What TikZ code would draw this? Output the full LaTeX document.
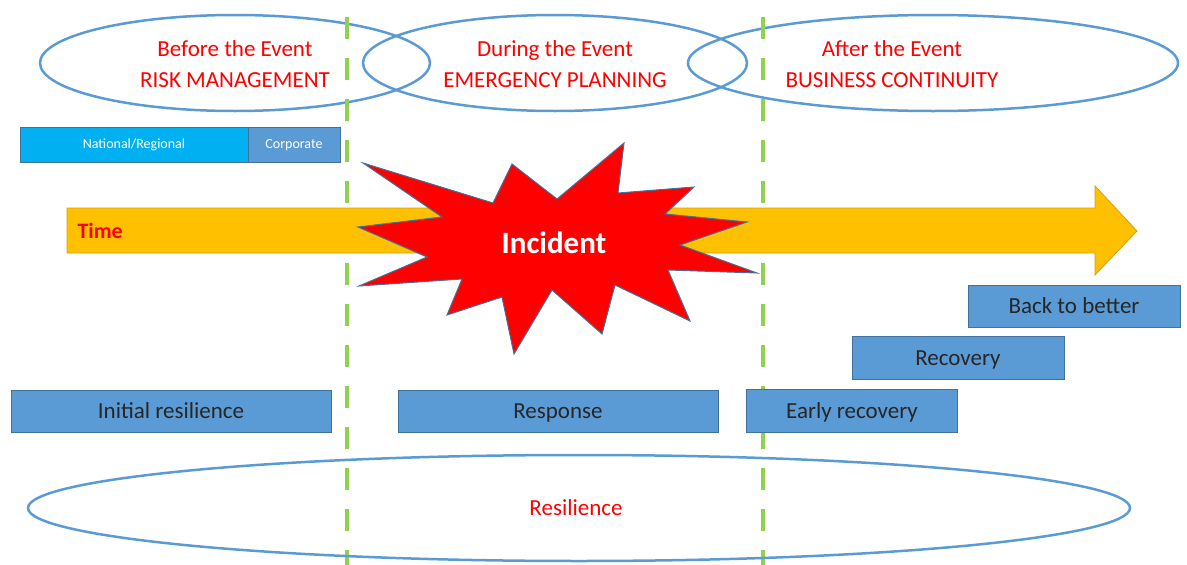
\documentclass[tikz,border=0pt]{standalone}
\usepackage{fontspec}
\setmainfont{Carlito}
\usetikzlibrary{shapes.geometric}

\definecolor{bluebox}{RGB}{91,155,213}
\definecolor{blueline}{RGB}{65,113,156}
\definecolor{cyanbox}{RGB}{0,176,240}
\definecolor{timegold}{RGB}{255,192,0}
\definecolor{timeedge}{RGB}{214,160,20}
\definecolor{divgreen}{RGB}{146,208,80}
\definecolor{ovalblue}{RGB}{91,155,213}

\begin{document}
\begin{tikzpicture}[x=1pt, y=-1pt,
    oval/.style={draw=ovalblue, line width=2.5pt, ellipse, inner sep=0pt},
    phasetext/.style={text=red, font=\fontsize{23}{31}\selectfont, align=center},
    stagebox/.style={draw=blueline, fill=bluebox, line width=0.8pt, inner sep=0pt,
        text height=18pt, text depth=4pt,
        font=\fontsize{23}{26}\selectfont, text=black!85},
    scalebox/.style={draw=blueline, line width=0.8pt, inner sep=0pt,
        minimum height=35pt, text=white, font=\fontsize{14}{16}\selectfont},
    divider/.style={divgreen, line width=4pt, dash pattern=on 22pt off 19pt}]
    \useasboundingbox (0,0) rectangle (1187,565);

    % phase ovals
    \node[oval, minimum width=390pt, minimum height=96pt] (before) at (235,63) {};
    \node[oval, minimum width=384pt, minimum height=96pt] (during) at (555,63) {};
    \node[oval, minimum width=490pt, minimum height=96pt] (after) at (933,63) {};
    \node[phasetext] (beforetxt) at (235,64) {Before the Event\\RISK MANAGEMENT};
    \node[phasetext] (duringtxt) at (555,64) {During the Event\\EMERGENCY PLANNING};
    \node[phasetext] (aftertxt) at (892,64) {After the Event\\BUSINESS CONTINUITY};

    % dividers
    \draw[divider] (347,17) -- (347,565);
    \draw[divider] (763,17) -- (763,565);

    % scale of planning
    \node[scalebox, fill=cyanbox, minimum width=228pt] (national) at (134,145) {National/Regional};
    \node[scalebox, fill=bluebox, minimum width=92pt] (corporate) at (294,145) {Corporate};

    % time arrow
    \draw[fill=timegold, draw=timeedge, line width=0.8pt]
        (67,208) -- (1095,208) -- (1095,186) -- (1137,231) -- (1095,275)
        -- (1095,253) -- (67,253) -- cycle;
    \node[text=red, font=\bfseries\fontsize{22}{24}\selectfont, anchor=west] (time) at (74,231) {Time};

    % incident burst
    \draw[fill=red, draw=blueline, line width=1pt]
        (363,163) -- (493,203) -- (512,164) -- (557,199) -- (624,143) -- (618,193)
        -- (694,187) -- (665,214) -- (747,222) -- (680,245) -- (757,273) -- (668,270)
        -- (690,321) -- (615,285) -- (602,334) -- (552,290) -- (514,354) -- (502,297)
        -- (447,315) -- (462,279) -- (359,286) -- (427,257) -- (358,227) -- (442,217)
        -- cycle;
    \node[text=white, font=\bfseries\fontsize{31}{34}\selectfont] (incident) at (554,243) {Incident};

    % stages
    \node[stagebox, minimum width=212pt, minimum height=42pt] (better) at (1074,306) {Back to better};
    \node[stagebox, minimum width=212pt, minimum height=43pt] (recovery) at (958,358) {Recovery};
    \node[stagebox, minimum width=211pt, minimum height=43pt] (early) at (852,411) {Early recovery};
    \node[stagebox, minimum width=320pt, minimum height=42pt] (initial) at (171,411) {Initial resilience};
    \node[stagebox, minimum width=320pt, minimum height=42pt] (response) at (558,411) {Response};

    % resilience oval
    \node[oval, minimum width=1102pt, minimum height=106pt] (resilience) at (579,508) {};
    \node[phasetext] (resiltxt) at (576,508) {Resilience};
\end{tikzpicture}
\end{document}
